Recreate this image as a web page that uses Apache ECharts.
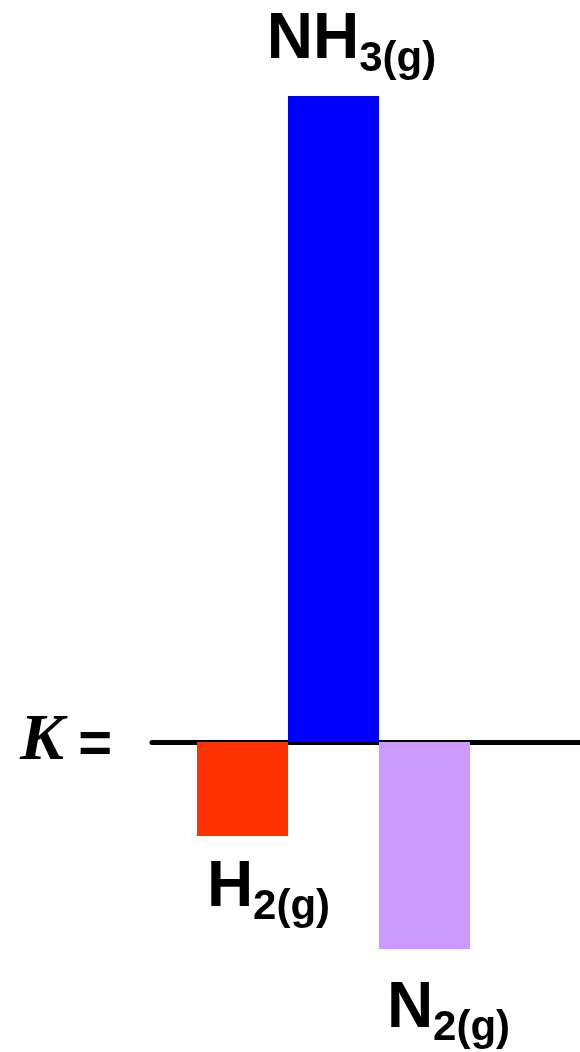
<!DOCTYPE html>
<html>
<head>
<meta charset="utf-8">
<script src="https://cdn.jsdelivr.net/npm/echarts@6/dist/echarts.min.js"></script>
<style>
  html, body { margin: 0; padding: 0; background: #fff; }
  #main { width: 580px; height: 1052px; }
</style>
</head>
<body>
<div id="main"></div>
<script>
// 数据
var species = ['H2', 'NH3', 'N2'];
var mainText = ['H', 'NH', 'N'];
var subText = ['2(g)', '3(g)', '2(g)'];
var values = [-0.94, 6.46, -2.07];
var colors = ['#ff3300', '#0000ff', '#cc99ff'];
var yMin = -2.07, yMax = 6.46;

var labelPos = ['bottom', 'top', 'bottom'];
var labelOffset = [[26, 10], [18, -6], [24, 18]];

var barData = values.map(function (v, i) {
  return {
    value: v,
    itemStyle: { color: colors[i] },
    label: {
      show: true,
      position: labelPos[i],
      offset: labelOffset[i],
      formatter: '{m|' + mainText[i] + '}{s|' + subText[i] + '}'
    }
  };
});

var font = 'Liberation Sans, Arial, sans-serif';

var myChart = echarts.init(document.getElementById('main'));

var option = {
  backgroundColor: '#ffffff',
  animation: false,
  grid: [
    // 柱子
    { left: 197, width: 273, top: 96, bottom: 103 },
    // 横线 + K =
    { left: 152, right: 0, top: 96, bottom: 103 }
  ],
  xAxis: [
    {
      gridIndex: 0, type: 'category', data: species,
      axisLine: { show: false }, axisTick: { show: false }, axisLabel: { show: false }
    },
    {
      gridIndex: 1, type: 'category', data: [],
      axisLine: { show: true, onZero: true, lineStyle: { color: '#000', width: 5 } },
      axisTick: { show: false }, axisLabel: { show: false },
      name: '{k|K}{e|=}',
      nameLocation: 'start',
      nameGap: 40,
      nameTextStyle: {
        rich: {
          k: { fontFamily: 'Liberation Serif, Times New Roman, serif', fontStyle: 'italic', fontWeight: 'bold', fontSize: 66, color: '#000', padding: [0, 14, 0, 0] },
          e: { fontFamily: font, fontWeight: 'bold', fontSize: 58, color: '#000', padding: [8, 0, 0, 0] }
        }
      }
    }
  ],
  yAxis: [
    { gridIndex: 0, type: 'value', min: yMin, max: yMax, show: false },
    { gridIndex: 1, type: 'value', min: yMin, max: yMax, show: false }
  ],
  series: [
    {
      type: 'bar',
      xAxisIndex: 0, yAxisIndex: 0,
      barWidth: 91,
      barCategoryGap: 0,
      data: barData,
      label: {
        distance: 10,
        color: '#000',
        rich: {
          m: { fontFamily: font, fontWeight: 'bold', fontSize: 64, color: '#000', verticalAlign: 'bottom', padding: [0, 0, 8, 0] },
          s: { fontFamily: font, fontWeight: 'bold', fontSize: 42, color: '#000', verticalAlign: 'bottom' }
        }
      }
    }
  ]
};

myChart.setOption(option);
</script>
</body>
</html>
